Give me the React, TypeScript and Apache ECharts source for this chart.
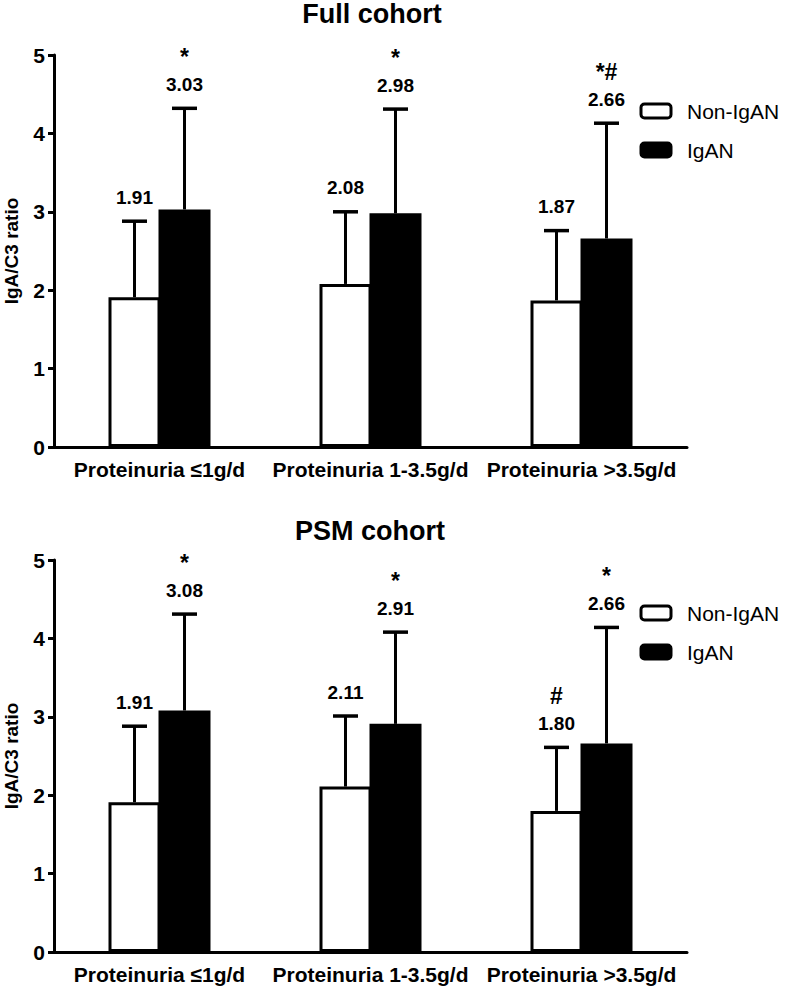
import React, { useEffect, useRef } from 'react';
import * as echarts from 'echarts';

const categories = ['Proteinuria ≤1g/d', 'Proteinuria 1-3.5g/d', 'Proteinuria >3.5g/d'];
const groupNames = ['Non-IgAN', 'IgAN'];
const panelTitles = ['Full cohort', 'PSM cohort'];
const yAxisName = 'IgA/C3 ratio';

// Full cohort
const fullNonMean = [1.91, 2.08, 1.87];
const fullNonUpper = [2.88, 3.0, 2.76];
const fullNonSig = ['', '', ''];
const fullIgaMean = [3.03, 2.98, 2.66];
const fullIgaUpper = [4.32, 4.31, 4.13];
const fullIgaSig = ['*', '*', '*#'];

// PSM cohort
const psmNonMean = [1.91, 2.11, 1.8];
const psmNonUpper = [2.88, 3.01, 2.61];
const psmNonSig = ['', '', '#'];
const psmIgaMean = [3.08, 2.91, 2.66];
const psmIgaUpper = [4.31, 4.08, 4.14];
const psmIgaSig = ['*', '*', '*'];

const FONT = '"Liberation Sans", Arial, Helvetica, sans-serif';
const BAR_W = 52;
const OVERLAP = 2;
const HALF_STEP = (BAR_W - OVERLAP) / 2;

function errSeries(means: number[], uppers: number[], sigs: string[], offset: number, idx: number) {
  return {
    type: 'custom',
    xAxisIndex: idx,
    yAxisIndex: idx,
    z: 10,
    silent: true,
    data: means.map((m, i) => [i, m, uppers[i]]),
    renderItem: (params: any, api: any) => {
      const i = params.dataIndex;
      const top = api.coord([api.value(0), api.value(2)]);
      const base = api.coord([api.value(0), api.value(1)]);
      const x = top[0] + offset;
      const children: any[] = [
        { type: 'line', shape: { x1: x, y1: base[1], x2: x, y2: top[1] }, style: { stroke: '#000', lineWidth: 3 } },
        { type: 'line', shape: { x1: x - 12.5, y1: top[1], x2: x + 12.5, y2: top[1] }, style: { stroke: '#000', lineWidth: 3.5 } },
        {
          type: 'text',
          x,
          y: top[1] - 24,
          style: {
            text: means[i].toFixed(2),
            fontSize: 19,
            fontWeight: 'bold',
            fontFamily: FONT,
            fill: '#000',
            align: 'center',
            verticalAlign: 'middle',
          },
        },
      ];
      if (sigs[i]) {
        children.push({
          type: 'text',
          x,
          y: top[1] - 51,
          style: {
            text: sigs[i],
            fontSize: 23,
            fontWeight: 'bold',
            fontFamily: FONT,
            fill: '#000',
            align: 'center',
            verticalAlign: 'middle',
          },
        });
      }
      return { type: 'group', children };
    },
  };
}

function barSeries(name: string, data: number[], idx: number, color: string) {
  return {
    type: 'bar',
    name,
    xAxisIndex: idx,
    yAxisIndex: idx,
    data,
    barWidth: BAR_W,
    barGap: `${(-OVERLAP / BAR_W) * 100}%`,
    itemStyle: { color, borderColor: '#000', borderWidth: 3 },
  };
}

export default function App() {
  const ref = useRef<HTMLDivElement>(null);
  useEffect(() => {
    if (!ref.current) return;
    const chart = echarts.init(ref.current, null, { renderer: 'svg' });
    const grids = [
      { left: 54, top: 55, width: 633, height: 392, containLabel: false, outerBoundsMode: 'none' },
      { left: 54, top: 560, width: 633, height: 392, containLabel: false, outerBoundsMode: 'none' },
    ];
    const xAxes = grids.map((_, i) => ({
      type: 'category',
      gridIndex: i,
      data: categories,
      axisLine: { lineStyle: { color: '#000', width: 3 } },
      axisTick: { alignWithLabel: true, length: 6, lineStyle: { color: '#000', width: 3 } },
      axisLabel: { color: '#000', fontSize: 21, fontWeight: 'bold', fontFamily: FONT, margin: 12, interval: 0 },
    }));
    const yAxes = grids.map((_, i) => ({
      type: 'value',
      gridIndex: i,
      min: 0,
      max: 5,
      interval: 1,
      name: yAxisName,
      nameLocation: 'middle',
      nameGap: 33,
      nameTextStyle: { color: '#000', fontSize: 19, fontWeight: 'bold', fontFamily: FONT },
      axisLine: { show: true, lineStyle: { color: '#000', width: 3 } },
      axisTick: { show: true, length: 6, lineStyle: { color: '#000', width: 3 } },
      axisLabel: { color: '#000', fontSize: 21, fontWeight: 'bold', fontFamily: FONT, margin: 9 },
      splitLine: { show: false },
    }));
    const legendData = [
      { name: groupNames[0], itemStyle: { color: '#fff', borderColor: '#000', borderWidth: 3 } },
      { name: groupNames[1], itemStyle: { color: '#000', borderColor: '#000', borderWidth: 3 } },
    ];
    const legendBase = {
      orient: 'vertical',
      left: 639.5,
      padding: 0,
      itemWidth: 30,
      itemHeight: 14,
      itemGap: 18,
      icon: 'roundRect',
      selectedMode: false,
      data: legendData,
      textStyle: { color: '#000', fontSize: 21, fontFamily: FONT, lineHeight: 14, padding: [0, 0, 0, 11] },
    };
    chart.setOption({
      animation: false,
      backgroundColor: '#fff',
      title: [
        { text: panelTitles[0], left: 372, top: 0, padding: 0, textAlign: 'center', textStyle: { color: '#000', fontSize: 27, fontWeight: 'bold', fontFamily: FONT } },
        { text: panelTitles[1], left: 370, top: 517, padding: 0, textAlign: 'center', textStyle: { color: '#000', fontSize: 27, fontWeight: 'bold', fontFamily: FONT } },
      ],
      legend: [
        { ...legendBase, top: 100.5 },
        { ...legendBase, top: 602.5 },
      ],
      grid: grids,
      xAxis: xAxes,
      yAxis: yAxes,
      series: [
        barSeries(groupNames[0], fullNonMean, 0, '#fff'),
        barSeries(groupNames[1], fullIgaMean, 0, '#000'),
        barSeries(groupNames[0], psmNonMean, 1, '#fff'),
        barSeries(groupNames[1], psmIgaMean, 1, '#000'),
        errSeries(fullNonMean, fullNonUpper, fullNonSig, -HALF_STEP, 0),
        errSeries(fullIgaMean, fullIgaUpper, fullIgaSig, HALF_STEP, 0),
        errSeries(psmNonMean, psmNonUpper, psmNonSig, -HALF_STEP, 1),
        errSeries(psmIgaMean, psmIgaUpper, psmIgaSig, HALF_STEP, 1),
      ],
    });
    return () => chart.dispose();
  }, []);
  return <div ref={ref} style={{ position: 'absolute', left: 0, top: 0, width: 787, height: 991 }} />;
}
